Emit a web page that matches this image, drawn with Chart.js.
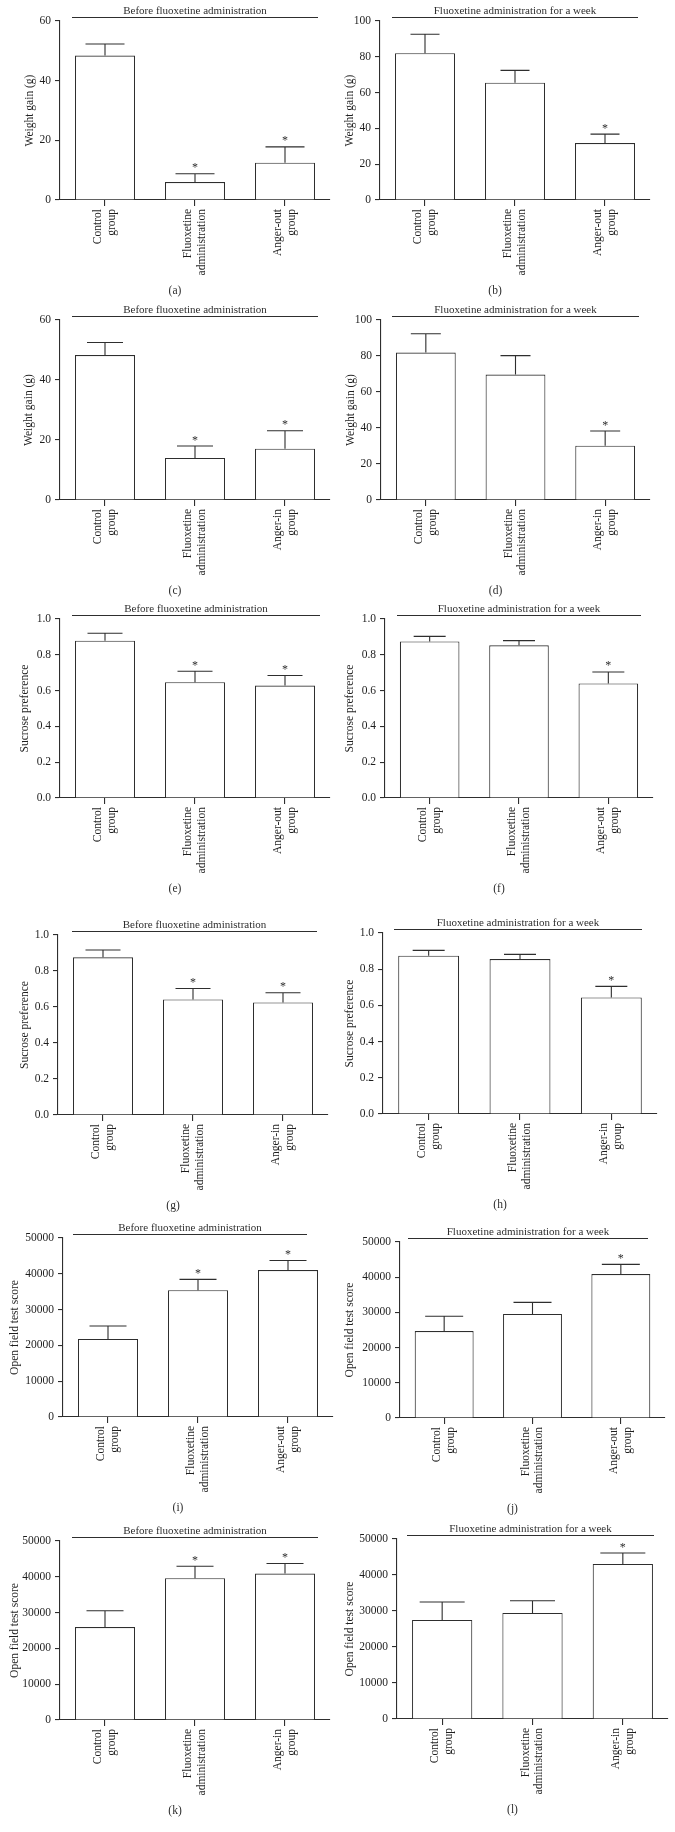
<!DOCTYPE html>
<html><head><meta charset="utf-8">
<script src="https://cdn.jsdelivr.net/npm/chart.js@4.4.1/dist/chart.umd.min.js"></script>
<style>
html,body{margin:0;padding:0;background:#fff;width:675px;height:1832px;overflow:hidden;position:relative}
canvas{position:absolute}
</style></head><body>
<script>
// ---------- DATA ----------
const catsAngerOut = [["Control","group"],["Fluoxetine","administration"],["Anger-out","group"]];
const catsAngerIn  = [["Control","group"],["Fluoxetine","administration"],["Anger-in","group"]];

const titleBefore = "Before fluoxetine administration";
const titleWeek   = "Fluoxetine administration for a week";

const yTitleWeight  = "Weight gain (g)";
const yTitleSucrose = "Sucrose preference";
const yTitleOpen    = "Open field test score";

const ticksWeight60  = [0, 20, 40, 60];
const ticksWeight100 = [0, 20, 40, 60, 80, 100];
const ticksSucrose   = [0, 0.2, 0.4, 0.6, 0.8, 1.0];
const tickLabelsSucrose = ["0.0","0.2","0.4","0.6","0.8","1.0"];
const ticksOpen      = [0, 10000, 20000, 30000, 40000, 50000];

const valuesA = [48.4, 6.0, 12.5];      const errorsA = [3.9, 2.8, 5.3];     const starsA = [false, true, true];
const valuesB = [82.0, 65.5, 31.8];     const errorsB = [10.6, 6.9, 5.0];    const starsB = [false, false, true];
const valuesC = [48.3, 14.0, 17.1];     const errorsC = [4.2, 4.0, 6.0];     const starsC = [false, true, true];
const valuesD = [81.9, 69.7, 30.2];     const errorsD = [10.5, 10.5, 8.1];   const starsD = [false, false, true];
const valuesE = [0.879, 0.647, 0.628];  const errorsE = [0.041, 0.061, 0.056]; const starsE = [false, true, true];
const valuesF = [0.875, 0.853, 0.640];  const errorsF = [0.028, 0.026, 0.064]; const starsF = [false, false, true];
const valuesG = [0.876, 0.642, 0.625];  const errorsG = [0.041, 0.061, 0.054]; const starsG = [false, true, true];
const valuesH = [0.875, 0.856, 0.644];  const errorsH = [0.029, 0.026, 0.061]; const starsH = [false, false, true];
const valuesI = [21800, 35400, 41050];  const errorsI = [3600, 3050, 2650];  const starsI = [false, true, true];
const valuesJ = [24700, 29550, 40900];  const errorsJ = [4200, 3300, 2750];  const starsJ = [false, false, true];
const valuesK = [25950, 39600, 40900];  const errorsK = [4550, 3350, 2800];  const starsK = [false, true, true];
const valuesL = [27500, 29450, 43050];  const errorsL = [5000, 3400, 3050];  const starsL = [false, false, true];

// ---------- LAYOUT / STYLE ----------
const INK = "#2e2e2e";
const FONT = "'Liberation Serif', 'DejaVu Serif', serif";
const layout = {
  a:{col:0, L:60,  R:330, T:21,   B:200,  lineL:72,  lineR:318, yTitleX:30,  cap:39},
  b:{col:1, L:380, R:650, T:21,   B:200,  lineL:392, lineR:638, yTitleX:350, cap:29},
  c:{col:0, L:60,  R:330, T:320,  B:500,  lineL:72,  lineR:318, yTitleX:29,  cap:36},
  d:{col:1, L:381, R:650, T:320,  B:500,  lineL:392, lineR:639, yTitleX:351, cap:30},
  e:{col:0, L:60,  R:330, T:619,  B:798,  lineL:72,  lineR:320, yTitleX:25,  cap:35},
  f:{col:1, L:385, R:653, T:619,  B:798,  lineL:397, lineR:641, yTitleX:350, cap:32},
  g:{col:0, L:58,  R:328, T:935,  B:1115, lineL:72,  lineR:317, yTitleX:25,  cap:35},
  h:{col:1, L:383, R:657, T:933,  B:1114, lineL:394, lineR:642, yTitleX:350, cap:32},
  i:{col:0, L:63,  R:333, T:1238, B:1417, lineL:73,  lineR:307, yTitleX:15,  cap:37},
  j:{col:1, L:400, R:665, T:1242, B:1418, lineL:408, lineR:648, yTitleX:350, cap:38},
  k:{col:0, L:60,  R:330, T:1541, B:1720, lineL:72,  lineR:318, yTitleX:15,  cap:37},
  l:{col:1, L:397, R:668, T:1539, B:1719, lineL:407, lineR:654, yTitleX:350, cap:45}
};

const decoPlugin = {
  id: 'deco',
  afterDraw(chart, args, o) {
    const ctx = chart.ctx, xs = chart.scales.x, ys = chart.scales.y, ca = chart.chartArea;
    ctx.save();
    ctx.strokeStyle = INK; ctx.fillStyle = INK; ctx.lineWidth = 1.1;
    o.values.forEach((v, i) => {
      const cx = xs.getPixelForValue(i);
      const yv = ys.getPixelForValue(v);
      const ye = ys.getPixelForValue(v + o.errors[i]);
      ctx.beginPath();
      ctx.moveTo(cx, yv); ctx.lineTo(cx, ye);
      ctx.moveTo(cx - o.cap / 2, ye); ctx.lineTo(cx + o.cap / 2, ye);
      ctx.stroke();
      if (o.stars[i]) {
        ctx.font = "12px " + FONT; ctx.textAlign = 'center'; ctx.textBaseline = 'alphabetic';
        ctx.fillText('*', cx, ye - 2.5);
      }
    });
    // title line + title
    ctx.beginPath();
    ctx.moveTo(o.lineL, ca.top - 3.5); ctx.lineTo(o.lineR, ca.top - 3.5);
    ctx.stroke();
    ctx.font = "11px " + FONT; ctx.textAlign = 'center'; ctx.textBaseline = 'alphabetic';
    ctx.fillText(o.title, (o.lineL + o.lineR) / 2, ca.top - 7);
    // panel label
    ctx.font = "11.5px " + FONT; ctx.textBaseline = 'middle';
    ctx.fillText(o.label, o.labelX, ca.bottom + 91);
    ctx.restore();
  }
};

function makePanel(id, cats, title, yTitle, tickVals, tickLabels, values, errors, stars) {
  const lay = layout[id];
  const colX = lay.col === 0 ? 0 : 337;
  const cw = lay.col === 0 ? 337 : 338;
  const padTop = 25, xH = 100;
  const top = lay.T - padTop;
  const ch = (lay.B - lay.T) + padTop + xH;
  const c = document.createElement('canvas');
  c.width = cw; c.height = ch;
  c.style.left = colX + 'px'; c.style.top = top + 'px';
  c.style.width = cw + 'px'; c.style.height = ch + 'px';
  document.body.appendChild(c);
  const yW = lay.L - colX;
  const padR = colX + cw - lay.R;
  const tFont = 11.5, lh = tFont * 1.2;
  const xFont = 11.5, xLh = 1.2;
  new Chart(c, {
    type: 'bar',
    data: {
      labels: cats,
      datasets: [{
        data: values,
        backgroundColor: '#ffffff',
        borderColor: INK,
        borderWidth: 1.1,
        barPercentage: 0.667,
        categoryPercentage: 1.0
      }]
    },
    options: {
      responsive: false,
      animation: false,
      devicePixelRatio: 1,
      layout: { padding: { top: padTop, right: padR, bottom: 0, left: 0 } },
      plugins: {
        legend: { display: false },
        tooltip: { enabled: false },
        deco: {
          values, errors, stars, title,
          cap: lay.cap,
          lineL: lay.lineL - colX, lineR: lay.lineR - colX,
          label: '(' + id + ')',
          labelX: (lay.L + lay.R) / 2 - 20 - colX
        }
      },
      scales: {
        x: {
          type: 'category',
          offset: true,
          afterFit(s) { s.height = xH; },
          grid: { display: true, drawOnChartArea: false, drawTicks: true, tickLength: 6, offset: false, color: INK, lineWidth: 1.1 },
          border: { display: true, color: INK, width: 1.1 },
          ticks: { minRotation: 90, maxRotation: 90, autoSkip: false, padding: 3, color: '#1e1e1e',
                   labelOffset: -(xFont * xLh) / 2,
                   font: { family: FONT, size: xFont, lineHeight: xLh } }
        },
        y: {
          min: tickVals[0],
          max: tickVals[tickVals.length - 1],
          afterFit(s) { s.width = yW; },
          afterBuildTicks(s) { s.ticks = tickVals.map(v => ({ value: v })); },
          grid: { display: true, drawOnChartArea: false, drawTicks: true, tickLength: 5, color: INK, lineWidth: 1.1 },
          border: { display: true, color: INK, width: 1.1 },
          ticks: {
            padding: 4, color: '#1e1e1e',
            font: { family: FONT, size: 11.5 },
            callback: (v) => { const k = tickVals.indexOf(v); return tickLabels ? tickLabels[k] : String(v); }
          },
          title: {
            display: true, text: yTitle, color: '#1e1e1e',
            font: { family: FONT, size: tFont },
            padding: { top: (lay.yTitleX - colX) - lh / 2, bottom: 0 }
          }
        }
      }
    },
    plugins: [decoPlugin]
  });
}

makePanel('a', catsAngerOut, titleBefore, yTitleWeight, ticksWeight60, null, valuesA, errorsA, starsA);
makePanel('b', catsAngerOut, titleWeek,   yTitleWeight, ticksWeight100, null, valuesB, errorsB, starsB);
makePanel('c', catsAngerIn,  titleBefore, yTitleWeight, ticksWeight60, null, valuesC, errorsC, starsC);
makePanel('d', catsAngerIn,  titleWeek,   yTitleWeight, ticksWeight100, null, valuesD, errorsD, starsD);
makePanel('e', catsAngerOut, titleBefore, yTitleSucrose, ticksSucrose, tickLabelsSucrose, valuesE, errorsE, starsE);
makePanel('f', catsAngerOut, titleWeek,   yTitleSucrose, ticksSucrose, tickLabelsSucrose, valuesF, errorsF, starsF);
makePanel('g', catsAngerIn,  titleBefore, yTitleSucrose, ticksSucrose, tickLabelsSucrose, valuesG, errorsG, starsG);
makePanel('h', catsAngerIn,  titleWeek,   yTitleSucrose, ticksSucrose, tickLabelsSucrose, valuesH, errorsH, starsH);
makePanel('i', catsAngerOut, titleBefore, yTitleOpen, ticksOpen, null, valuesI, errorsI, starsI);
makePanel('j', catsAngerOut, titleWeek,   yTitleOpen, ticksOpen, null, valuesJ, errorsJ, starsJ);
makePanel('k', catsAngerIn,  titleBefore, yTitleOpen, ticksOpen, null, valuesK, errorsK, starsK);
makePanel('l', catsAngerIn,  titleWeek,   yTitleOpen, ticksOpen, null, valuesL, errorsL, starsL);
</script>
</body></html>
